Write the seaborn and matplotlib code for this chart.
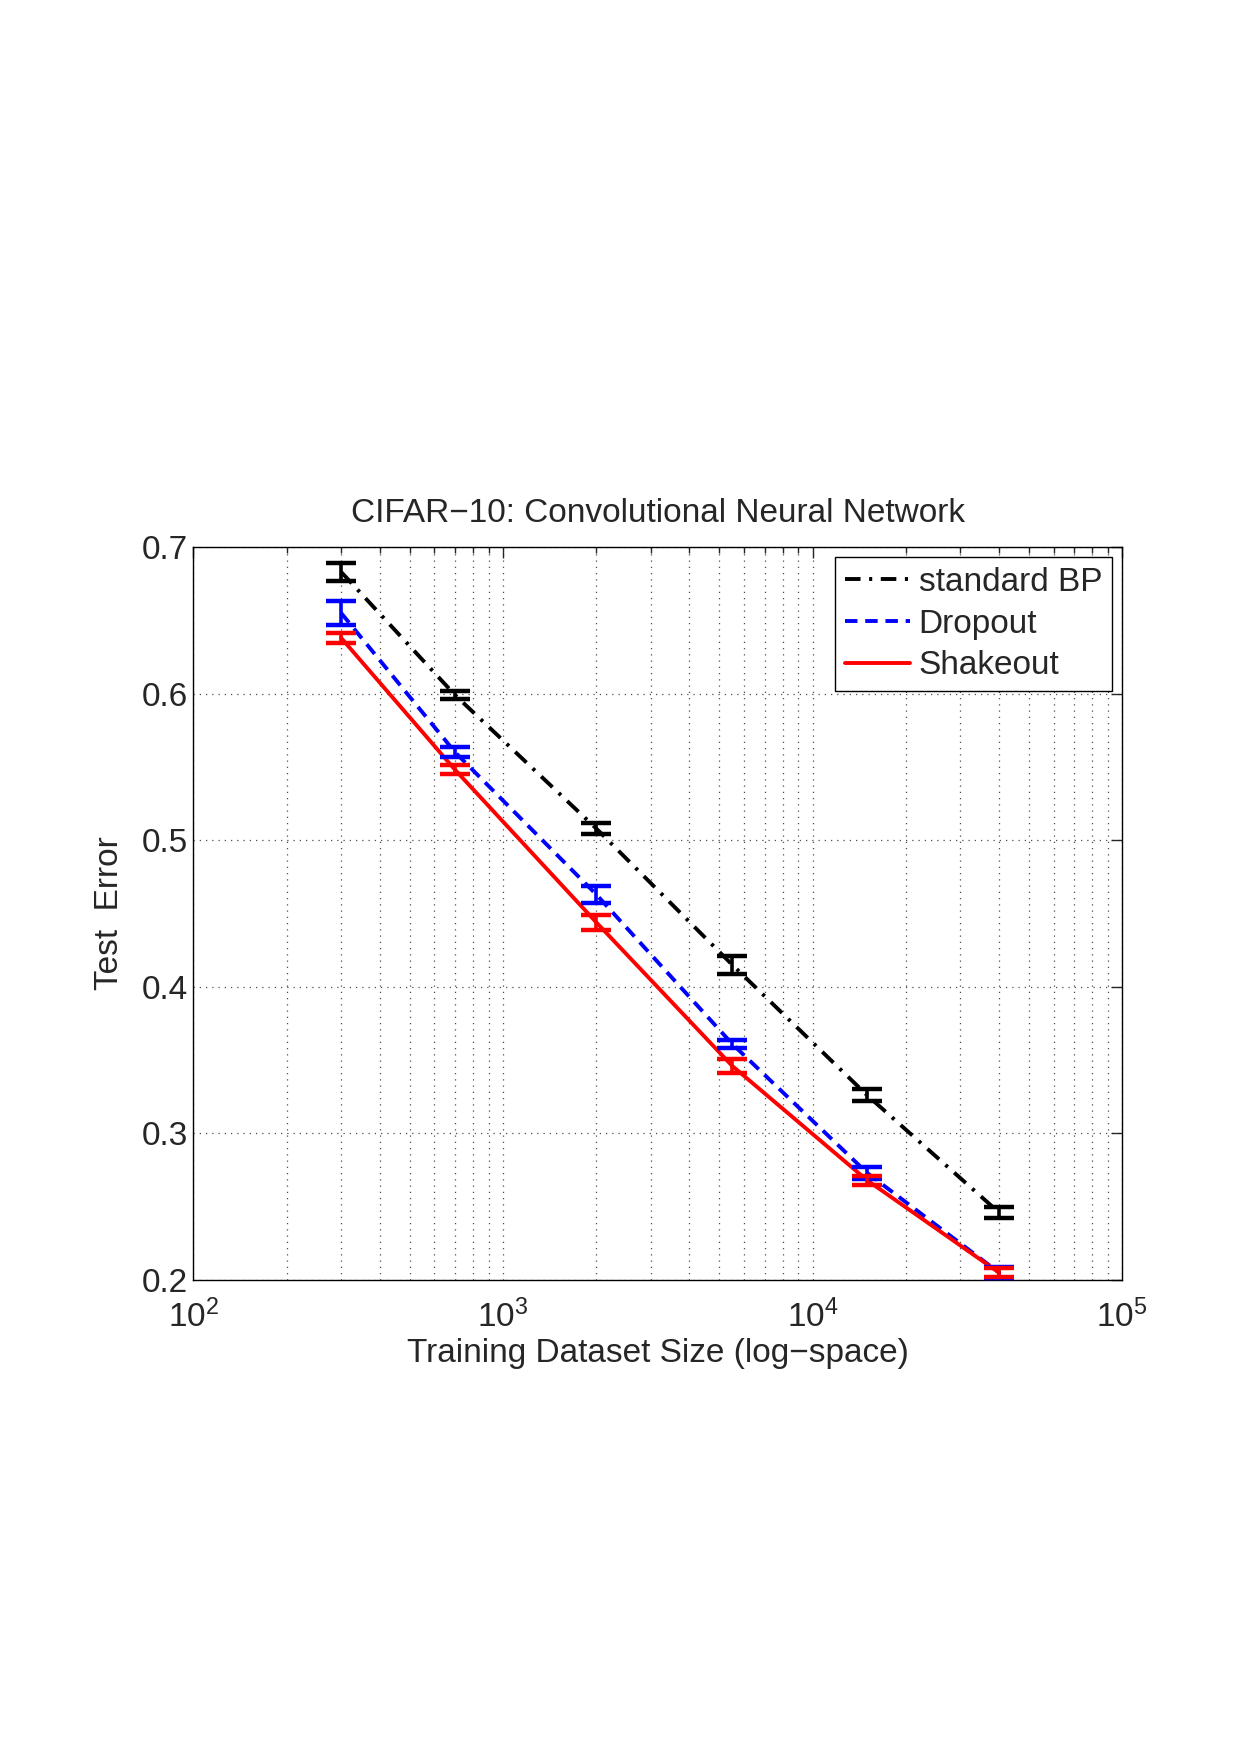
import matplotlib
matplotlib.use("Agg")
import matplotlib.pyplot as plt
import seaborn as sns
import pandas as pd
import numpy as np
from matplotlib.ticker import LogLocator, NullFormatter

# training set sizes
sizes = [300, 700, 2000, 5500, 15000, 40000]

# mean test error per method
err_bp = [0.683, 0.599, 0.508, 0.415, 0.326, 0.246]
err_dropout = [0.655, 0.560, 0.463, 0.361, 0.273, 0.205]
err_shakeout = [0.638, 0.548, 0.444, 0.346, 0.268, 0.205]

# half-width of the error bars
sd_bp = [0.006, 0.003, 0.0035, 0.006, 0.004, 0.0035]
sd_dropout = [0.008, 0.0035, 0.006, 0.0025, 0.004, 0.004]
sd_shakeout = [0.0035, 0.003, 0.005, 0.0045, 0.003, 0.003]

methods = ["standard BP", "Dropout", "Shakeout"]
colors = ["black", "blue", "red"]

df = pd.DataFrame({
    "size": sizes * 3,
    "err": err_bp + err_dropout + err_shakeout,
    "sd": sd_bp + sd_dropout + sd_shakeout,
    "method": [m for m in methods for _ in sizes],
})

sns.set_style("white")
plt.rcParams['font.family'] = ['Liberation Sans', 'DejaVu Sans']
plt.rcParams['mathtext.default'] = 'regular'

fig = plt.figure(figsize=(12.4, 17.55), dpi=100)
ax = fig.add_axes([0.156, 0.2707, 0.749, 0.4176])

sns.lineplot(data=df, x="size", y="err", hue="method", style="method",
             palette=dict(zip(methods, colors)),
             dashes={"standard BP": (4, 2.2, 0.8, 2.2), "Dropout": (3.2, 2.0), "Shakeout": ""},
             linewidth=2.8, ax=ax, legend=True)

for m, c in zip(methods, colors):
    sub = df[df["method"] == m]
    ax.errorbar(sub["size"], sub["err"], yerr=sub["sd"], fmt="none",
                ecolor=c, elinewidth=2.6, capsize=11, capthick=3.2, zorder=3)

ax.set_xscale("log")
ax.set_xlim(100, 100000)
ax.set_ylim(0.2, 0.7)
ax.set_yticks([0.2, 0.3, 0.4, 0.5, 0.6, 0.7])
ax.set_yticklabels(["0.2", "0.3", "0.4", "0.5", "0.6", "0.7"])
ax.set_xticks([100, 1000, 10000, 100000])
ax.set_xticklabels(["$10^{2}$", "$10^{3}$", "$10^{4}$", "$10^{5}$"])
ax.xaxis.set_minor_locator(LogLocator(base=10, subs=np.arange(2, 10)))
ax.xaxis.set_minor_formatter(NullFormatter())

ax.grid(True, which="major", linestyle=(0, (1, 4)), color="0.3", linewidth=0.9)
ax.grid(True, which="minor", axis="x", linestyle=(0, (1, 4)), color="0.3", linewidth=0.9)

ax.tick_params(which="both", direction="in", top=True, right=True, labelsize=24,
               pad=4, width=1)
ax.tick_params(axis="x", which="both", pad=14)
ax.tick_params(which="major", length=8)
ax.tick_params(which="minor", length=4)
for s in ax.spines.values():
    s.set_color("black")
    s.set_linewidth(1)

ax.set_title("CIFAR\u221210: Convolutional Neural Network", fontsize=24, pad=18)
ax.set_xlabel("Training Dataset Size (log\u2212space)", fontsize=24, labelpad=3)
ax.set_ylabel("Test  Error", fontsize=24, labelpad=12)

leg = ax.legend(loc="upper right", fontsize=24, frameon=True, fancybox=False,
                edgecolor="black", framealpha=1, handlelength=1.95,
                handletextpad=0.25, borderpad=0.3, labelspacing=0.32,
                borderaxespad=0.3)
leg.get_frame().set_linewidth(1)

fig.savefig("out.png", dpi=100, facecolor="white")
